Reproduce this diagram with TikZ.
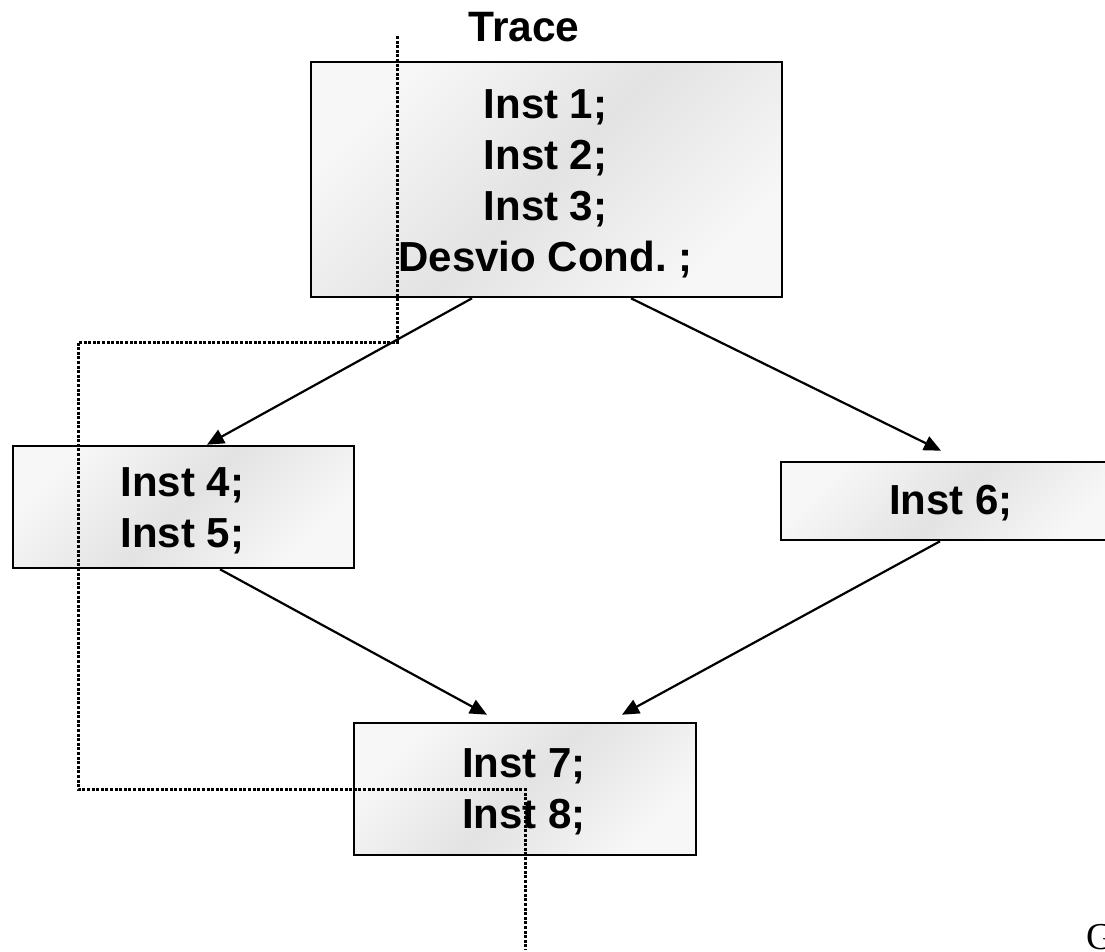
\documentclass[tikz,border=0pt]{standalone}
\usepackage{fontspec}
\setmainfont{Liberation Sans}
\newfontfamily\serifG{Liberation Serif}
\usetikzlibrary{arrows.meta,calc}
\frenchspacing
\tikzset{
  box/.style={draw=black, line width=2.6pt, rectangle, inner sep=0pt,
    shading=axis, left color=white!97!black, right color=white!97!black, middle color=white!89!black, shading angle=45},
  txt/.style={align=center, inner sep=0pt, font=\fontsize{42}{51}\selectfont\bfseries},
  arr/.style={line width=2.2pt, -{Triangle[length=17pt,width=15pt]}},
  trace/.style={line width=3pt, dash pattern=on 3pt off 1.6pt}
}
\begin{document}
\begin{tikzpicture}[x=1pt,y=-1pt]
\useasboundingbox (0,0) rectangle (1105,952);
\clip (0,0) rectangle (1105,952);
\node[font=\fontsize{42.5}{44}\selectfont\bfseries, anchor=base] (title) at (524,42) {Trace};
\node[box, minimum width=471pt, minimum height=235pt] (b1) at (546.5,179.5) {};
\node[txt] (t1) at ($(b1.center)+(-1,4)$) {Inst 1;\\Inst 2;\\Inst 3;\\Desvio Cond. ;};
\node[box, minimum width=341pt, minimum height=122pt] (b45) at (183.5,507) {};
\node[txt] (t45) at ($(b45.center)+(-1,4)$) {Inst 4;\\Inst 5;};
\node[box, minimum width=340pt, minimum height=78pt] (b6) at (951,501) {};
\node[txt] (t6) at ($(b6.center)+(0,2)$) {Inst 6;};
\node[box, minimum width=342pt, minimum height=132pt] (b78) at (525,789) {};
\node[txt] (t78) at ($(b78.center)+(-1,3)$) {Inst 7;\\Inst 8;};
\node[font=\fontsize{38}{44}\selectfont\serifG, anchor=base west, inner sep=0pt] (g) at (1086,949) {G};
\draw[arr] ($(b1.south)+(-74.5,0)$) -- ($(b45.north)+(23.5,0)$);
\draw[arr] ($(b1.south)+(84.5,0)$) -- ($(b6.north)+(-10,-10)$);
\draw[arr] ($(b45.south)+(36.5,0)$) -- ($(b78.north)+(-38,-7)$);
\draw[arr] ($(b6.south)+(-11,0)$) -- ($(b78.north)+(97,-7)$);
\coordinate (d0) at (397,36);
\coordinate (d1) at (397,342);
\coordinate (d2) at (78,342);
\coordinate (d3) at (78,789);
\coordinate (d4) at (525,789);
\coordinate (d5) at (525,950);
\draw[trace] (d0) -- (d1) -- (d2) -- (d3) -- (d4) -- (d5);
\end{tikzpicture}
\end{document}
